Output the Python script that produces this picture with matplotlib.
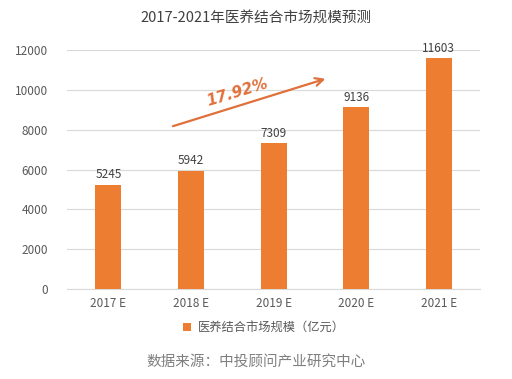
import matplotlib
matplotlib.use("Agg")
import matplotlib.pyplot as plt

plt.rcParams['font.family'] = ['Noto Sans CJK SC', 'DejaVu Sans']

categories = ["2017 E", "2018 E", "2019 E", "2020 E", "2021 E"]
values = [5245, 5942, 7309, 9136, 11603]
yticks = [0, 2000, 4000, 6000, 8000, 10000, 12000]
title = "2017-2021年医养结合市场规模预测"
legend_label = "医养结合市场规模（亿元）"
source = "数据来源：中投顾问产业研究中心"
cagr = "17.92%"

orange = "#ED7D31"
txt = "#595959"

fig = plt.figure(figsize=(5.12, 3.79), dpi=100)
ax = fig.add_axes([0.131, 0.2375, 0.8065, 0.6305])
x = list(range(len(categories)))
bars = ax.bar(x, values, width=0.315, color=orange, label=legend_label, zorder=3)
for xi, v in zip(x, values):
    ax.text(xi, v + 170, str(v), ha='center', va='bottom', fontsize=8.5, color='#404040')

ax.set_ylim(0, 12000)
ax.set_xlim(-0.5, len(categories) - 0.5)
ax.set_yticks(yticks)
ax.set_yticklabels([str(t) for t in yticks])
ax.set_xticks(x)
ax.set_xticklabels(categories)
ax.tick_params(axis='both', length=0, labelsize=8.5, colors=txt)
ax.tick_params(axis='y', pad=14)
ax.tick_params(axis='x', pad=6)
ax.grid(axis='y', color='#D9D9D9', linewidth=0.8, zorder=0)
for s in ['top', 'right', 'left']:
    ax.spines[s].set_visible(False)
ax.spines['bottom'].set_color('#D9D9D9')

ax.annotate("", xy=(2.66, 10594), xytext=(0.75, 8134),
            arrowprops=dict(arrowstyle='->', color='#E0703A', lw=1.6,
                            mutation_scale=14))
ax.text(1.56, 9850, cagr, rotation=17, ha='center', va='center', fontsize=11,
        color='#E0703A', fontweight='bold', fontstyle='italic',
        family=['DejaVu Sans'])

fig.text(0.5, 0.953, title, ha='center', va='center', fontsize=10.5, color='#404040')
leg = fig.legend(handles=[bars], labels=[legend_label], loc='center',
                 bbox_to_anchor=(0.515, 0.135), frameon=False, fontsize=8.8,
                 handlelength=0.7, handleheight=0.7, handletextpad=0.5)
for t in leg.get_texts():
    t.set_color(txt)
fig.text(0.5, 0.045, source, ha='center', va='center', fontsize=10.5, color='#7F7F7F')

fig.savefig("out.png", dpi=100)
